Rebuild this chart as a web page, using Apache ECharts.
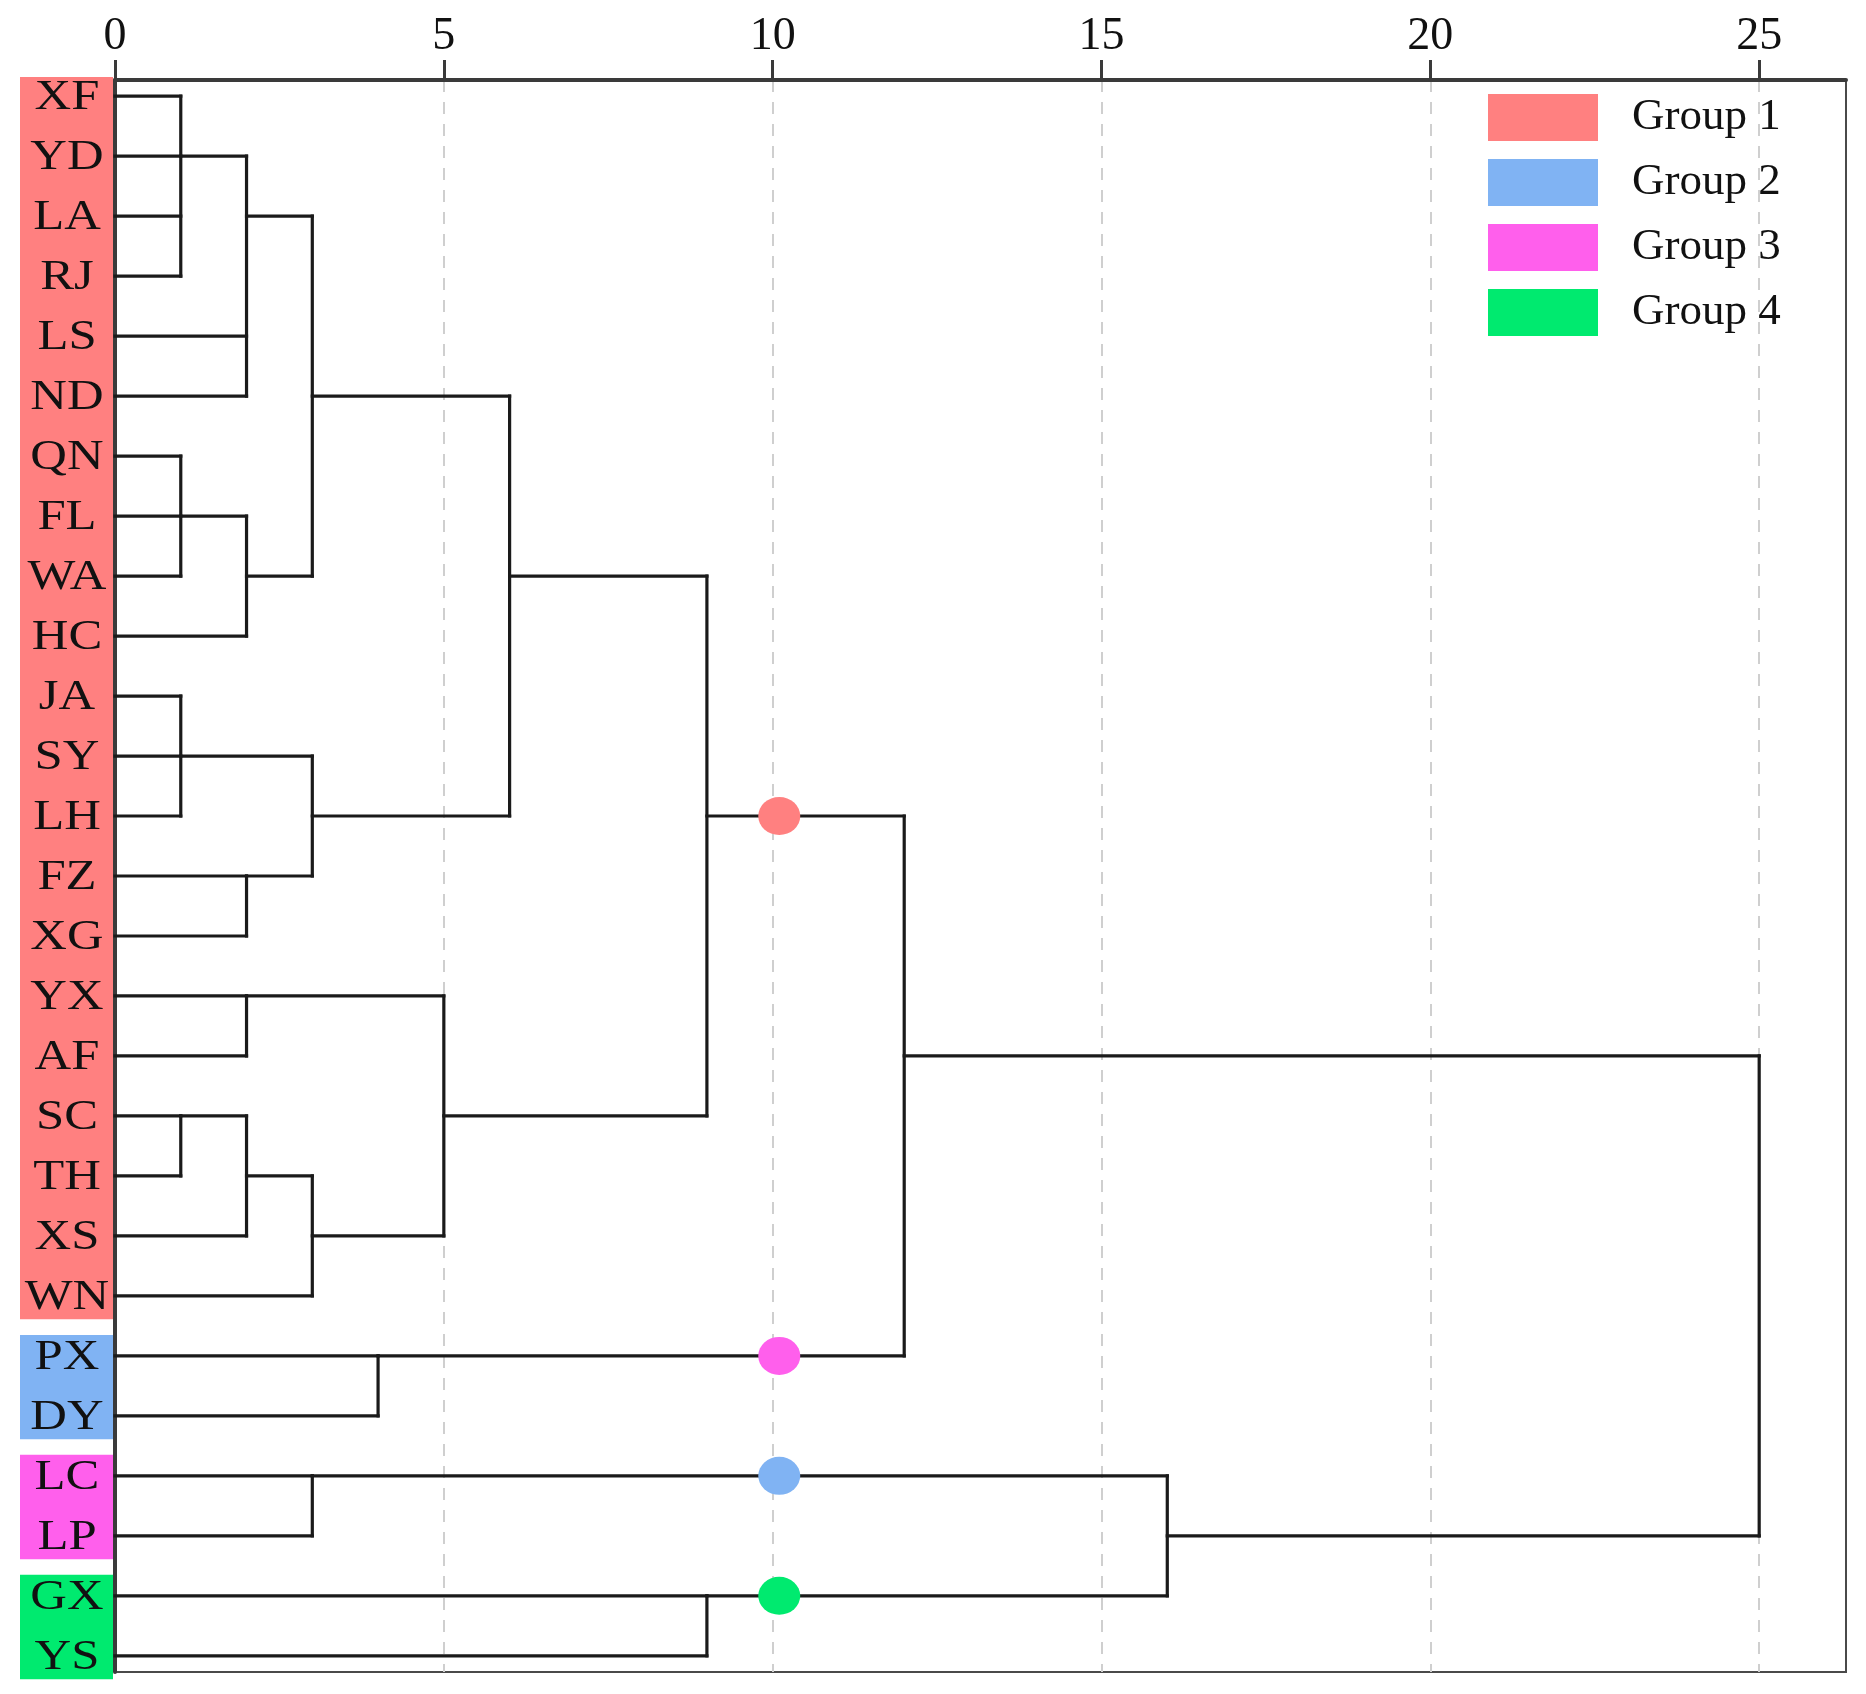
<!DOCTYPE html>
<html>
<head>
<meta charset="utf-8">
<script src="https://cdn.jsdelivr.net/npm/echarts@6/dist/echarts.min.js"></script>
<style>html,body{margin:0;padding:0;background:#fff}#c{width:1866px;height:1694px}</style>
</head>
<body>
<div id="c"></div>
<script>
// ---- data ----
const leaves = ['XF','YD','LA','RJ','LS','ND','QN','FL','WA','HC','JA','SY','LH','FZ','XG','YX','AF','SC','TH','XS','WN','PX','DY','LC','LP','GX','YS'];
// height (rescaled distance) at which each leaf first joins a cluster
const leafJoin = [1,1,1,1,2,2,1,1,1,2,1,1,1,2,2,2,2,1,1,2,3,4,4,3,3,9,9];
// merges: [height, first row, last row, output row, parent height]
const merges = [
  [1, 0, 3, 1, 2],
  [2, 1, 5, 2, 3],
  [1, 6, 8, 7, 2],
  [2, 7, 9, 8, 3],
  [3, 2, 8, 5, 6],
  [1, 10, 12, 11, 3],
  [2, 13, 14, 13, 3],
  [3, 11, 13, 12, 6],
  [6, 5, 12, 8, 9],
  [2, 15, 16, 15, 5],
  [1, 17, 18, 17, 2],
  [2, 17, 19, 18, 3],
  [3, 18, 20, 19, 5],
  [5, 15, 19, 17, 9],
  [9, 8, 17, 12, 12],
  [4, 21, 22, 21, 12],
  [12, 12, 21, 16, 25],
  [3, 23, 24, 23, 16],
  [9, 25, 26, 25, 16],
  [16, 23, 25, 24, 25],
  [25, 16, 24, null, null]
];
// group boxes: [group index, first row, last row]
const groupSpans = [[0, 0, 20], [1, 21, 22], [2, 23, 24], [3, 25, 26]];
const groupNames = ['Group 1', 'Group 2', 'Group 3', 'Group 4'];
const groupColors = ['#FF8080', '#80B3F3', '#FF5FEC', '#00EA6F'];
// cut markers: [distance, row, colour index]
const markers = [[10.1, 12, 0], [10.1, 21, 2], [10.1, 23, 1], [10.1, 25, 3]];
const xTicks = [0, 5, 10, 15, 20, 25];

// ---- build segments ----
const segs = [];
leaves.forEach((n, i) => segs.push([0, i, leafJoin[i], i]));
merges.forEach(m => {
  segs.push([m[0], m[1], m[0], m[2]]);
  if (m[3] !== null) segs.push([m[0], m[3], m[4], m[3]]);
});

const FONT = 'Liberation Serif, Times New Roman, serif';
const chart = echarts.init(document.getElementById('c'), null, {renderer: 'canvas'});

const legendSeries = groupNames.map((g, i) => ({
  name: g, type: 'scatter', data: [], itemStyle: {color: groupColors[i], opacity: 1}
}));

chart.setOption({
  animation: false,
  backgroundColor: '#fff',
  grid: {left: 115, top: 80, right: 20, bottom: 22, show: true, borderColor: '#4a4a4a', borderWidth: 2, backgroundColor: 'transparent'},
  legend: {
    orient: 'vertical', left: 1488, top: 94, padding: 0,
    itemWidth: 110, itemHeight: 47, itemGap: 18, icon: 'rect',
    itemStyle: {opacity: 1},
    textStyle: {fontFamily: FONT, fontSize: 45, color: '#111', lineHeight: 45, padding: [0, 0, 0, 29]},
    data: groupNames, selectedMode: false
  },
  xAxis: {
    type: 'value', position: 'top', min: 0, max: 26.32, interval: 5,
    axisLine: {show: true, onZero: false, lineStyle: {color: '#3a3a3a', width: 4}},
    axisTick: {show: true, length: 20, lineStyle: {color: '#3a3a3a', width: 3}, customValues: xTicks},
    axisLabel: {fontFamily: FONT, fontSize: 46, color: '#111', margin: 20, customValues: xTicks,
      formatter: v => (v % 5 === 0 ? String(v) : '')},
    splitLine: {show: true, lineStyle: {color: '#cfcfcf', width: 2, type: [12, 10]}}
  },
  yAxis: {
    type: 'value', min: -0.27, max: 26.27, inverse: true,
    axisLine: {show: true, onZero: false, lineStyle: {color: '#3a3a3a', width: 4}},
    axisTick: {show: false}, axisLabel: {show: false}, splitLine: {show: false}
  },
  series: [
    {
      type: 'custom', name: 'boxes', clip: false, silent: true, z: 1,
      data: groupSpans,
      renderItem: (params, api) => {
        const g = api.value(0);
        const x0 = api.coord([0, 0])[0];
        const top = Math.max(api.coord([0, api.value(1) - 0.35])[1], 77);
        const bot = api.coord([0, api.value(2) + 0.39])[1];
        return {type: 'rect', shape: {x: x0 - 95, y: top, width: 93, height: bot - top},
          style: {fill: groupColors[g]}};
      }
    },
    {
      type: 'custom', name: 'labels', clip: false, silent: true, z: 3,
      data: leaves.map((n, i) => [0, i]),
      renderItem: (params, api) => {
        const p = api.coord([0, api.value(1)]);
        return {type: 'text', x: p[0] - 48, y: p[1] + 2, scaleX: 1.18, scaleY: 1,
          style: {text: leaves[params.dataIndex], fontFamily: FONT, fontSize: 43, fill: '#111', align: 'center', verticalAlign: 'middle'}};
      }
    },
    {
      type: 'custom', name: 'tree', clip: false, silent: true, z: 4,
      data: segs,
      renderItem: (params, api) => {
        const a = api.coord([api.value(0), api.value(1)]);
        const b = api.coord([api.value(2), api.value(3)]);
        return {type: 'line', shape: {x1: a[0], y1: a[1], x2: b[0], y2: b[1]},
          style: {stroke: '#1a1a1a', lineWidth: 3.2, lineCap: 'square'}};
      }
    },
    {
      type: 'scatter', name: 'cuts', z: 6, symbol: 'circle', symbolSize: [42, 38], silent: true,
      itemStyle: {opacity: 1},
      data: markers.map(m => ({value: [m[0], m[1]], itemStyle: {color: groupColors[m[2]], opacity: 1}}))
    }
  ].concat(legendSeries)
});
</script>
</body>
</html>
